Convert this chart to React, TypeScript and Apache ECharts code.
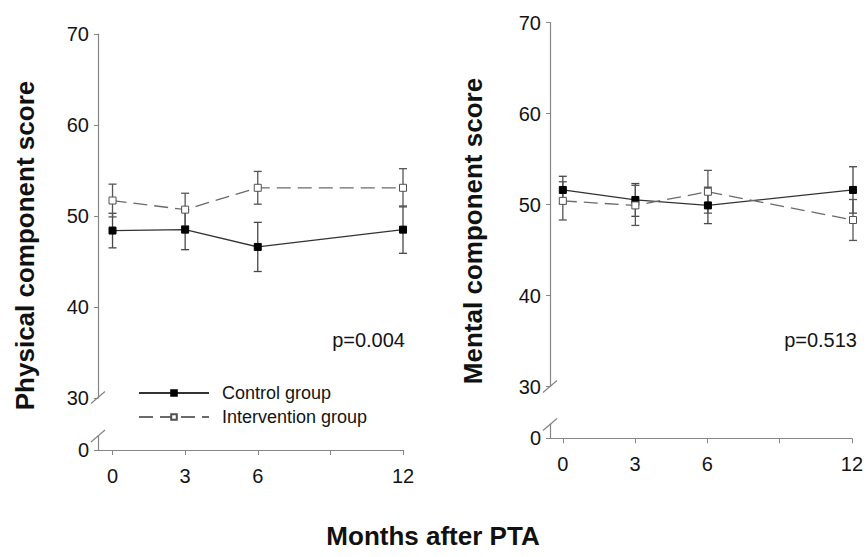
import React, { useEffect, useRef } from "react";
import * as echarts from "echarts";

const months = [0, 3, 6, 12];
const xTickValues = [0, 3, 6, 9, 12];
const xLabelValues = [0, 3, 6, 12];
const yTickValues = [30, 40, 50, 60, 70];

const physControlMean = [48.4, 48.5, 46.6, 48.5];
const physControlSD = [1.9, 2.2, 2.7, 2.6];
const physInterMean = [51.7, 50.7, 53.1, 53.1];
const physInterSD = [1.8, 1.8, 1.8, 2.1];

const mentControlMean = [51.6, 50.5, 49.9, 51.6];
const mentControlSD = [1.5, 1.8, 2.0, 2.55];
const mentInterMean = [50.4, 49.9, 51.4, 48.3];
const mentInterSD = [2.1, 2.2, 2.35, 2.25];

const FONT = "'Liberation Sans', Arial, sans-serif";
const AXIS = "#858585";
const TXT = "#141414";

function errorSeries(name: string, mean: number[], sd: number[], idx: number, color: string) {
  return {
    type: "custom",
    name,
    xAxisIndex: idx,
    yAxisIndex: idx,
    z: 1,
    encode: { x: 0, y: 1 },
    data: months.map((m, i) => [m, mean[i], sd[i]]),
    renderItem: (params: any, api: any) => {
      const x = api.value(0);
      const m = api.value(1);
      const s = api.value(2);
      const t = api.coord([x, m + s]);
      const b = api.coord([x, m - s]);
      const hw = 4;
      const style = { stroke: color, lineWidth: 1.3 };
      return {
        type: "group",
        children: [
          { type: "line", shape: { x1: t[0], y1: t[1], x2: b[0], y2: b[1] }, style },
          { type: "line", shape: { x1: t[0] - hw, y1: t[1], x2: t[0] + hw, y2: t[1] }, style },
          { type: "line", shape: { x1: b[0] - hw, y1: b[1], x2: b[0] + hw, y2: b[1] }, style },
        ],
      };
    },
  };
}

function lineSeries(name: string, mean: number[], idx: number, dashed: boolean) {
  return {
    type: "line",
    name,
    xAxisIndex: idx,
    yAxisIndex: idx,
    z: 3,
    data: months.map((m, i) => [m, mean[i]]),
    symbol: "rect",
    symbolSize: 7,
    showSymbol: true,
    lineStyle: dashed
      ? { color: "#6a6a6a", width: 1.3, type: [14, 7] }
      : { color: "#333333", width: 1.3, type: "solid" },
    itemStyle: dashed
      ? { color: "#ffffff", borderColor: "#505050", borderWidth: 1 }
      : { color: "#000000", borderColor: "#000000", borderWidth: 1 },
  };
}

function mainY(gridIndex: number) {
  return {
    type: "value",
    gridIndex,
    min: 30,
    max: 70,
    interval: 10,
    axisLine: { show: true, onZero: false, lineStyle: { color: AXIS, width: 1.2 } },
    axisTick: { show: true, inside: false, length: 4, lineStyle: { color: AXIS } },
    axisLabel: { fontSize: 20, color: TXT, fontFamily: FONT, margin: 9, customValues: yTickValues },
    splitLine: { show: false },
  };
}

function lowY(gridIndex: number) {
  return {
    type: "value",
    gridIndex,
    min: 0,
    max: 1,
    interval: 1,
    axisLine: { show: true, onZero: false, lineStyle: { color: AXIS, width: 1.2 } },
    axisTick: { show: true, length: 4, lineStyle: { color: AXIS }, customValues: [0] },
    axisLabel: { fontSize: 20, color: TXT, fontFamily: FONT, margin: 9, customValues: [0] },
    splitLine: { show: false },
  };
}

function mainX(gridIndex: number, min: number) {
  return {
    type: "value",
    gridIndex,
    min,
    max: 12,
    show: false,
    splitLine: { show: false },
  };
}

function lowX(gridIndex: number, min: number) {
  return {
    type: "value",
    gridIndex,
    min,
    max: 12,
    axisLine: { show: true, onZero: false, lineStyle: { color: AXIS, width: 1.2 } },
    axisTick: { show: true, length: 5, lineStyle: { color: AXIS }, customValues: xTickValues },
    axisLabel: { fontSize: 20, color: TXT, fontFamily: FONT, margin: 16, customValues: xLabelValues },
    splitLine: { show: false },
  };
}

function slash(cx: number, cy: number) {
  return {
    type: "line",
    shape: { x1: cx - 7, y1: cy + 6, x2: cx + 7, y2: cy - 6 },
    style: { stroke: AXIS, lineWidth: 1.2 },
  };
}

export default function App() {
  const ref = useRef<HTMLDivElement>(null);
  useEffect(() => {
    if (!ref.current) return;
    const chart = echarts.init(ref.current, null, { renderer: "svg" });
    const option: any = {
      animation: false,
      backgroundColor: "#ffffff",
      textStyle: { fontFamily: FONT },
      grid: [
        { left: 98, top: 34, width: 305, height: 364 },
        { left: 98, top: 436, width: 305, height: 14 },
        { left: 550, top: 22.5, width: 303, height: 364 },
        { left: 550, top: 424.3, width: 303, height: 14 },
      ],
      xAxis: [mainX(0, -0.6), lowX(1, -0.6), mainX(2, -0.53), lowX(3, -0.53)],
      yAxis: [mainY(0), lowY(1), mainY(2), lowY(3)],
      legend: {
        orient: "vertical",
        left: 133,
        top: 379,
        itemWidth: 70,
        itemHeight: 7,
        itemGap: 6,
        data: ["Control group", "Intervention group"],
        textStyle: { fontSize: 18, color: TXT, fontFamily: FONT, padding: [0, 0, 0, 8] },
        selectedMode: false,
      },
      series: [
        errorSeries("Control SD", physControlMean, physControlSD, 0, "#474747"),
        errorSeries("Intervention SD", physInterMean, physInterSD, 0, "#555555"),
        lineSeries("Control group", physControlMean, 0, false),
        lineSeries("Intervention group", physInterMean, 0, true),
        errorSeries("Control SD", mentControlMean, mentControlSD, 2, "#474747"),
        errorSeries("Intervention SD", mentInterMean, mentInterSD, 2, "#555555"),
        lineSeries("Control group", mentControlMean, 2, false),
        lineSeries("Intervention group", mentInterMean, 2, true),
      ],
      graphic: [
        slash(98, 397.5),
        slash(98, 436),
        slash(550, 386.5),
        slash(550, 424.5),
        {
          type: "text",
          x: 25,
          y: 245.5,
          rotation: Math.PI / 2,
          style: {
            text: "Physical component score",
            fontSize: 26,
            fontWeight: "bold",
            fontFamily: FONT,
            fill: "#111",
            align: "center",
            verticalAlign: "middle",
          },
        },
        {
          type: "text",
          x: 473,
          y: 231,
          rotation: Math.PI / 2,
          style: {
            text: "Mental component score",
            fontSize: 26,
            fontWeight: "bold",
            fontFamily: FONT,
            fill: "#111",
            align: "center",
            verticalAlign: "middle",
          },
        },
        {
          type: "text",
          x: 433,
          y: 536,
          style: {
            text: "Months after PTA",
            fontSize: 26,
            fontWeight: "bold",
            fontFamily: FONT,
            fill: "#111",
            align: "center",
            verticalAlign: "middle",
          },
        },
        {
          type: "text",
          x: 405,
          y: 340,
          style: { text: "p=0.004", fontSize: 20, fontFamily: FONT, fill: TXT, align: "right", verticalAlign: "middle" },
        },
        {
          type: "text",
          x: 857,
          y: 340,
          style: { text: "p=0.513", fontSize: 20, fontFamily: FONT, fill: TXT, align: "right", verticalAlign: "middle" },
        },
      ],
    };
    chart.setOption(option);
    return () => chart.dispose();
  }, []);
  return (
    <div
      ref={ref}
      style={{ position: "fixed", left: 0, top: 0, width: 866, height: 557, background: "#fff" }}
    />
  );
}
